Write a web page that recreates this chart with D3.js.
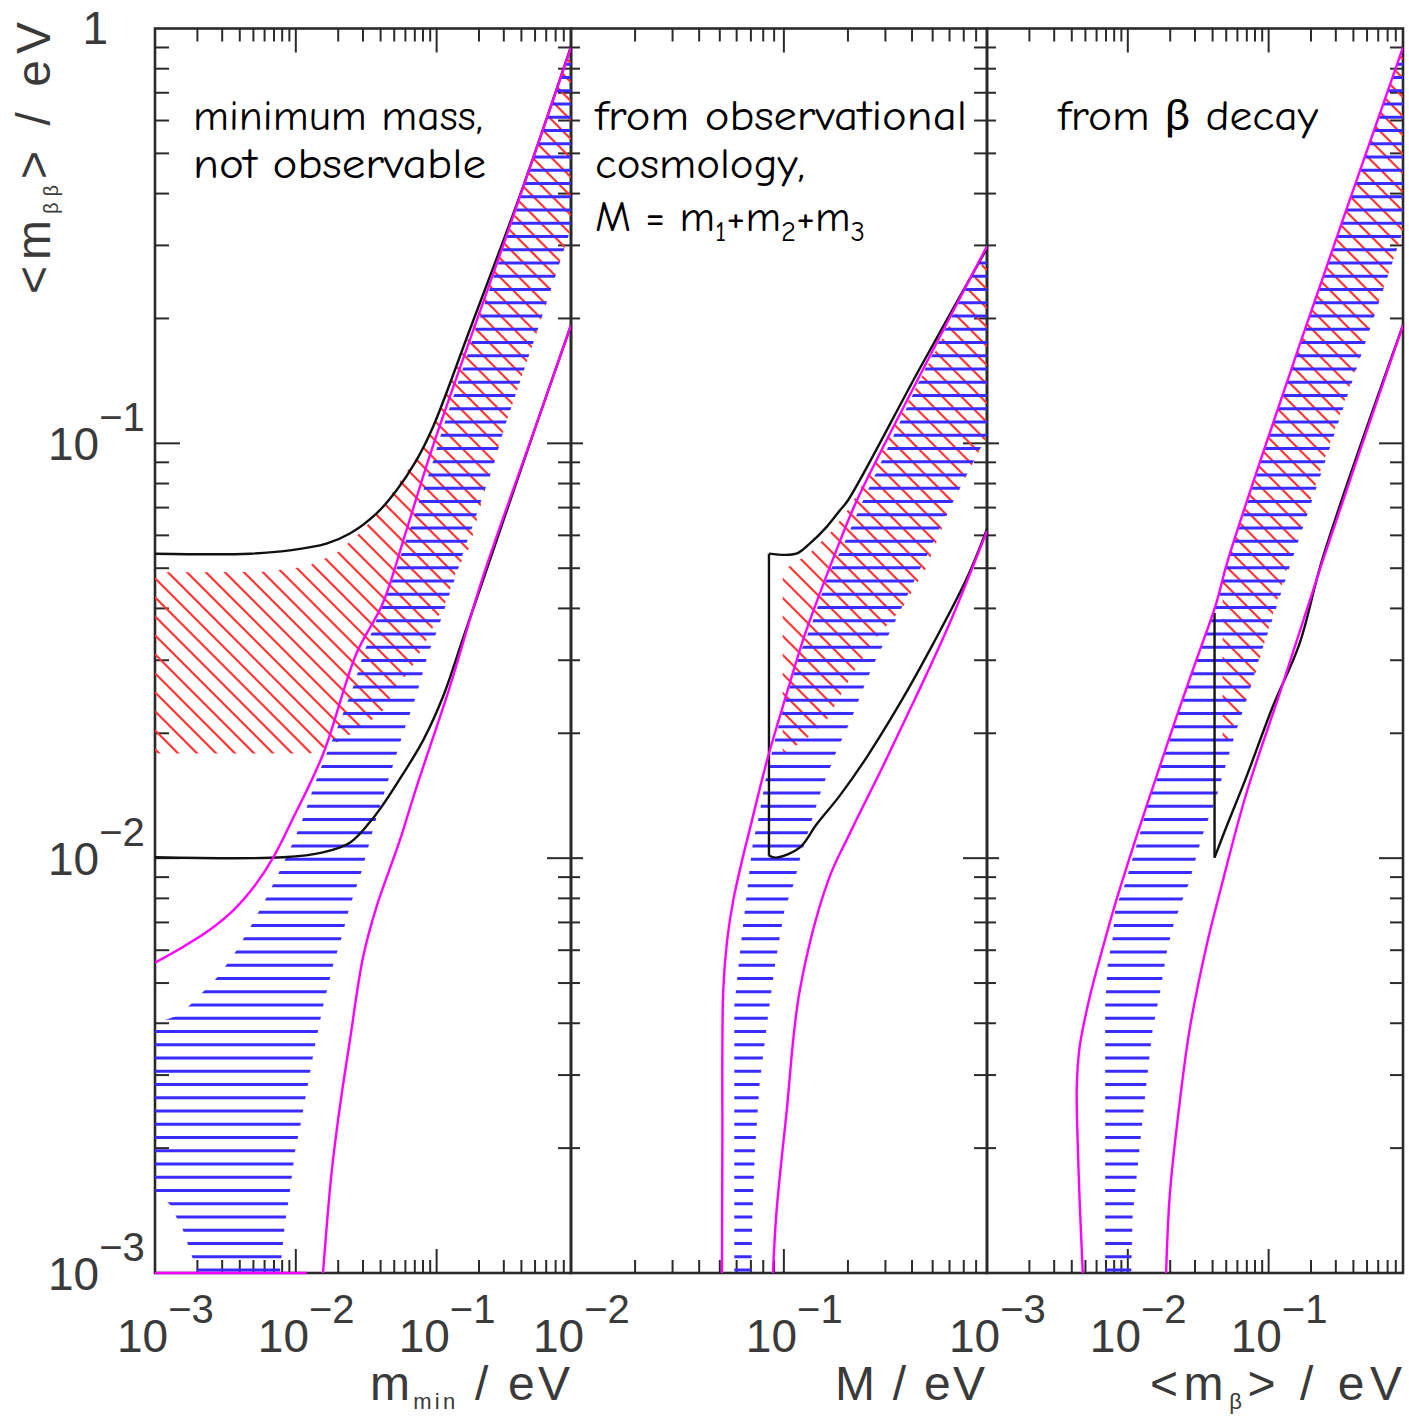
<!DOCTYPE html>
<html>
<head>
<meta charset="utf-8">
<script src="https://cdn.jsdelivr.net/npm/d3@7"></script>
<style>
  html, body { margin: 0; padding: 0; background: #ffffff; }
  svg { display: block; }
</style>
</head>
<body>
<svg id="chart" width="1409" height="1417"></svg>
<script>
// ---------------------------------------------------------------
// Effective Majorana mass <m_bb> versus three neutrino mass scales.
// Normal ordering: magenta envelope, blue hatched best-fit band.
// Inverted ordering: black envelope, red hatched best-fit band.
// Points are [x, <m_bb>] in eV.
// ---------------------------------------------------------------

// Axis domains (x) for the three panels
const p1XDomain = [1e-3, 0.9];   // m_min
const p2XDomain = [1e-2, 0.9];   // M = m1+m2+m3
const p3XDomain = [1e-3, 0.9];   // <m_beta>
const yDomain = [1e-3, 1];

// Tick label positions
const yTickValues = [1, 1e-1, 1e-2, 1e-3];
const p1TickLabels = [1e-3, 1e-2, 1e-1];
const p2TickLabels = [1e-2, 1e-1];
const p3TickLabels = [1e-3, 1e-2, 1e-1];

// ---------- Panel 1: minimum mass ----------
const p1NhMax = [[1e-3,5.6e-3],[1.58e-3,6.11e-3],[2.45e-3,6.72e-3],[3.69e-3,7.55e-3],[5.12e-3,8.59e-3],
  [6.87e-3,1.0e-2],[9.52e-3,1.245e-2],[1.56e-2,1.78e-2],[2.69e-2,3.11e-2],[4.14e-2,4.11e-2],[6.1e-2,6.17e-2],
  [9.37e-2,9.8e-2],[0.312,0.315],[0.9,0.9]];
const p1NhMin = [[1.56e-2,1e-3],[1.79e-2,1.73e-3],[2.05e-2,2.5e-3],[2.42e-2,3.63e-3],[3.0e-2,5.76e-3],
  [3.73e-2,7.61e-3],[5.46e-2,1.10e-2],[7.18e-2,1.48e-2],[0.1237,2.58e-2],[0.213,4.76e-2],[0.523,0.1136],[0.9,0.1926]];
const p1NhMinFloor = [[1e-3,1e-3],[1.19e-2,1e-3]];
const p1IhMax = [[1e-3,0.0542],[4.72e-3,0.0542],[9.07e-3,0.0552],[1.65e-2,0.0573],[2.42e-2,0.0606],
  [3.73e-2,0.0677],[5.18e-2,0.077],[7.18e-2,0.091],[9.42e-2,0.1095],[0.1714,0.1873],[0.4,0.405],[0.9,0.905]];
const p1IhMin = [[1e-3,0.01005],[8.13e-3,0.01005],[1.56e-2,0.01033],[2.42e-2,0.0109],[3.35e-2,0.0122],
  [4.16e-2,0.01345],[5.77e-2,0.01596],[8.0e-2,0.0192],[0.1109,0.0245],[0.1537,0.0338],[0.213,0.0467],
  [0.523,0.1136],[0.9,0.1926]];
const p1NhFitUpper = [[1e-3,4.0e-3],[1.39e-3,4.15e-3],[1.79e-3,4.44e-3],[2.3e-3,4.84e-3],[2.83e-3,5.2e-3],
  [3.8e-3,6.0e-3],[4.86e-3,6.91e-3],[6.26e-3,8.09e-3],[7.7e-3,9.33e-3],[9.57e-3,1.092e-2],[1.13e-2,1.254e-2],
  [1.33e-2,1.474e-2],[1.56e-2,1.7e-2],[1.89e-2,1.99e-2],[2.23e-2,2.29e-2],[2.62e-2,2.65e-2],[3.0e-2,3.09e-2],
  [3.53e-2,3.57e-2],[4.16e-2,4.12e-2],[5.04e-2,4.83e-2],[5.77e-2,5.57e-2],[6.79e-2,6.52e-2],[7.79e-2,7.49e-2],
  [9.17e-2,8.77e-2],[0.1109,0.1091],[0.312,0.31],[0.9,0.897]];
const p1NhFitLower = [[1e-3,1.58e-3],[1.28e-3,1.46e-3],[1.58e-3,1.27e-3],[1.86e-3,1.08e-3],[2.02e-3,1e-3],
  [2.3e-3,6e-4],[7.4e-3,6e-4],[7.7e-3,1e-3],[8.0e-3,1.13e-3],[8.36e-3,1.31e-3],[9.07e-3,1.57e-3],
  [9.89e-3,1.97e-3],[1.08e-2,2.28e-3],[1.22e-2,2.86e-3],[1.38e-2,3.59e-3],[1.57e-2,4.43e-3],[1.85e-2,5.56e-3],
  [2.11e-2,6.43e-3],[2.39e-2,7.55e-3],[2.94e-2,9.33e-3],[3.73e-2,1.25e-2],[4.64e-2,1.58e-2],[5.77e-2,2.0e-2],
  [7.18e-2,2.47e-2],[8.67e-2,3.1e-2],[0.1021,3.58e-2],[0.1172,4.11e-2],[0.138,4.83e-2],[0.158,5.58e-2],
  [0.186,6.52e-2],[0.213,7.49e-2],[0.251,8.75e-2],[0.3035,0.1093],[0.52,0.187],[0.9,0.33]];
const p1IhFitUpper = [[1e-3,0.0489],[6e-3,0.049],[1.2e-2,0.0505],[1.95e-2,0.0543],[2.99e-2,0.0617],
  [4.14e-2,0.0701],[5.74e-2,0.0828],[7.57e-2,0.0946],[9.37e-2,0.1075],[0.312,0.309],[0.9,0.89]];
const p1IhFitLower = [[1e-3,0.01787],[1.26e-2,0.01787],[1.94e-2,0.019],[3.0e-2,0.0207],[4.16e-2,0.0227],
  [5.18e-2,0.0258],[6.44e-2,0.0283],[8.0e-2,0.0323],[0.0995,0.0374],[0.1172,0.0418],[0.138,0.0494],
  [0.1714,0.0562],[0.213,0.0741],[0.3035,0.1093],[0.52,0.187],[0.9,0.33]];

// ---------- Panel 2: cosmological sum M ----------
const p2NhMax = [[0.0512,1e-3],[0.0514,1.97e-3],[0.0519,4.79e-3],[0.0541,6.32e-3],[0.0578,7.9e-3],
  [0.0636,9.86e-3],[0.0693,1.178e-2],[0.0756,1.415e-2],[0.0833,1.718e-2],[0.0938,2.123e-2],[0.1068,2.65e-2],
  [0.1229,3.35e-2],[0.1446,4.23e-2],[0.172,5.34e-2],[0.2204,7.29e-2],[0.4358,0.1459],[0.9,0.2987]];
const p2NhMin = [[0.0889,1e-3],[0.0922,1.39e-3],[0.1027,2.41e-3],[0.1187,4.79e-3],[0.1613,8.82e-3],
  [0.2039,1.146e-2],[0.2927,1.67e-2],[0.4203,2.466e-2],[0.6029,3.7e-2],[0.9,0.0615]];
const p2IhMax = [[0.0851,0.0542],[0.1145,0.0542],[0.1322,0.0573],[0.1585,0.0628],[0.1831,0.0689],
  [0.2002,0.0729],[0.4355,0.1517],[0.9,0.2954]];
const p2IhMin = [[0.0851,0.01014],[0.0922,0.01003],[0.1187,0.0106],[0.1422,0.01205],[0.1831,0.01415],
  [0.2444,0.01748],[0.3507,0.0236],[0.503,0.0329],[0.7225,0.0472],[0.9,0.0622]];
const p2IhEdge = [[0.0851,0.0542],[0.0851,0.01014]];
const p2NhFitUpper = [[0.0585,6e-4],[0.0585,4.4e-3],[0.0624,6.02e-3],[0.0678,8.68e-3],[0.0716,1.094e-2],
  [0.0764,1.264e-2],[0.0827,1.584e-2],[0.0922,1.99e-2],[0.1034,2.466e-2],[0.1187,3.1e-2],[0.1396,3.83e-2],
  [0.1613,4.83e-2],[0.1865,5.55e-2],[0.2274,7.0e-2],[0.445,0.1459],[0.9,0.297]];
const p2NhFitLower = [[0.069,6e-4],[0.0711,1.37e-3],[0.0731,1.97e-3],[0.0769,2.86e-3],[0.0842,4.15e-3],
  [0.0912,5.6e-3],[0.1009,7.55e-3],[0.1116,8.71e-3],[0.1204,1.02e-2],[0.1312,1.176e-2],[0.1511,1.477e-2],
  [0.1778,1.827e-2],[0.2055,2.14e-2],[0.2418,2.646e-2],[0.2773,3.1e-2],[0.3206,3.57e-2],[0.3662,4.13e-2],
  [0.4231,4.83e-2],[0.4855,5.55e-2],[0.5572,6.49e-2],[0.6029,7.0e-2],[0.9,0.1045]];
const p2IhFitUpper = [[0.0987,0.0494],[0.1322,0.0543],[0.1697,0.0617],[0.2039,0.0701],[0.4355,0.1419],[0.9,0.2842]];
const p2IhFitLower = [[0.0987,0.01817],[0.1009,0.01787],[0.1276,0.01942],[0.1585,0.02147],[0.2107,0.02787],
  [0.2725,0.0341],[0.3624,0.0403],[0.4684,0.0503],[0.6029,0.07],[0.9,0.1045]];

// ---------- Panel 3: beta-decay mass <m_beta> ----------
const p3NhMax = [[4.79e-3,1e-3],[4.54e-3,1.52e-3],[4.42e-3,2.0e-3],[4.34e-3,2.8e-3],[4.54e-3,3.49e-3],
  [5.35e-3,4.61e-3],[6.65e-3,6.09e-3],[8.27e-3,7.9e-3],[1.21e-2,1.187e-2],[1.59e-2,1.566e-2],[2.21e-2,2.186e-2],
  [3.06e-2,2.996e-2],[4.24e-2,4.11e-2],[5.13e-2,5.22e-2],[0.1658,0.1724],[0.9,0.9]];
const p3NhMin = [[1.87e-2,1e-3],[1.98e-2,1.52e-3],[2.21e-2,2.2e-3],[2.74e-2,3.84e-3],[3.6e-2,6.09e-3],
  [4.73e-2,8.82e-3],[6.93e-2,1.428e-2],[0.1195,2.49e-2],[0.2426,5.22e-2],[0.9,0.1926]];
const p3IhMin = [[4.13e-2,1.003e-2],[5.0e-2,1.187e-2],[6.93e-2,1.566e-2],[0.1071,2.32e-2],[0.1658,3.29e-2],
  [0.2426,5.3e-2],[0.9,0.1926]];
const p3IhEdge = [[4.13e-2,0.039],[4.13e-2,1.003e-2]];
const p3NhFitUpper = [[6.91e-3,6e-4],[6.91e-3,4.44e-3],[7.21e-3,5.57e-3],[7.82e-3,6.44e-3],[8.14e-3,7.54e-3],
  [9.58e-3,8.68e-3],[1.1e-2,1.018e-2],[1.245e-2,1.176e-2],[1.387e-2,1.356e-2],[1.65e-2,1.588e-2],
  [2.03e-2,1.994e-2],[2.53e-2,2.466e-2],[3.14e-2,3.1e-2],[4.02e-2,3.83e-2],[5.13e-2,5.17e-2],[0.1658,0.1724],[0.9,0.897]];
const p3NhFitLower = [[1.02e-2,6e-4],[1.08e-2,1.36e-3],[1.17e-2,1.78e-3],[1.27e-2,2.33e-3],[1.387e-2,3.07e-3],
  [1.5e-2,3.86e-3],[1.71e-2,4.84e-3],[1.9e-2,6.0e-3],[2.11e-2,6.91e-3],[2.49e-2,8.07e-3],[2.71e-2,8.69e-3],
  [3.09e-2,1.018e-2],[3.5e-2,1.176e-2],[4.13e-2,1.356e-2],[4.73e-2,1.588e-2],[5.79e-2,1.994e-2],
  [7.12e-2,2.466e-2],[8.76e-2,3.1e-2],[0.1083,3.83e-2],[0.1447,5.17e-2],[0.9,0.3248]];
const p3IhFitUpper = [[4.71e-2,4.67e-2],[5.13e-2,5.17e-2],[0.1658,0.1724],[0.9,0.897]];
const p3IhFitLower = [[4.71e-2,1.889e-2],[5.0e-2,1.868e-2],[5.57e-2,2.07e-2],[6.56e-2,2.27e-2],
  [8.17e-2,2.83e-2],[0.1071,3.88e-2],[0.1408,5.22e-2],[0.9,0.3248]];

// ---------------------------------------------------------------
const svg = d3.select("#chart");
const defs = svg.append("defs");

const plotTop = 28.5, plotBottom = 1273;
const edges = [155, 571, 987, 1403];

const COL_MAGENTA = "#ff00ff";
const COL_BLACK = "#111111";
const COL_BLUE = "#3a2cff";
const COL_RED = "#ff3434";
const COL_FRAME = "#2a2a2a";
const COL_LABEL = "#3a3a3a";
const tickFont = "'Liberation Sans', Arial, Helvetica, sans-serif";
const noteFont = "'Comic Sans MS', 'Comic Neue', Lato, 'Open Sans', sans-serif";

const y = d3.scaleLog().domain(yDomain).range([plotBottom, plotTop]);

const panels = [
  { xs: d3.scaleLog().domain(p1XDomain).range([edges[0], edges[1]]),
    nhFit: [p1NhFitUpper, p1NhFitLower], ihFit: [p1IhFitUpper, p1IhFitLower],
    black: [p1IhMax, p1IhMin], blackEdge: null,
    magenta: [p1NhMax, p1NhMin, p1NhMinFloor],
    labels: p1TickLabels, leftTick: [25, 14] },
  { xs: d3.scaleLog().domain(p2XDomain).range([edges[1], edges[2]]),
    nhFit: [p2NhFitUpper, p2NhFitLower], ihFit: [p2IhFitUpper, p2IhFitLower],
    black: [p2IhMax, p2IhMin], blackEdge: p2IhEdge,
    magenta: [p2NhMax, p2NhMin],
    labels: p2TickLabels, leftTick: [12, 9] },
  { xs: d3.scaleLog().domain(p3XDomain).range([edges[2], edges[3]]),
    nhFit: [p3NhFitUpper, p3NhFitLower], ihFit: [p3IhFitUpper, p3IhFitLower],
    black: [p3IhMin], blackEdge: p3IhEdge,
    magenta: [p3NhMax, p3NhMin],
    labels: p3TickLabels, leftTick: [12, 9] }
];

const isDecade = v => Math.abs(Math.log10(v) - Math.round(Math.log10(v))) < 1e-6;

// ---------- frames and ticks ----------
const frame = svg.append("g");
panels.forEach((p, i) => {
  const [x0, x1] = p.xs.range();
  frame.append("rect")
    .attr("x", x0).attr("y", plotTop).attr("width", x1 - x0).attr("height", plotBottom - plotTop)
    .attr("fill", "none").attr("stroke", COL_FRAME).attr("stroke-width", 2.6);

  // y ticks, both sides, pointing inward
  y.ticks().forEach(v => {
    const yy = y(v);
    if (yy < plotTop + 1 || yy > plotBottom - 1) return;
    const maj = isDecade(v);
    const lenL = maj ? p.leftTick[0] : p.leftTick[1];
    const lenR = maj ? 24 : 13;
    frame.append("line").attr("x1", x0).attr("x2", x0 + lenL).attr("y1", yy).attr("y2", yy)
      .attr("stroke", COL_FRAME).attr("stroke-width", 2);
    frame.append("line").attr("x1", x1).attr("x2", x1 - lenR).attr("y1", yy).attr("y2", yy)
      .attr("stroke", COL_FRAME).attr("stroke-width", 2);
  });

  // x ticks, top and bottom
  p.xs.ticks().forEach(v => {
    const xx = p.xs(v);
    if (xx < x0 + 1 || xx > x1 - 1) return;
    const len = isDecade(v) ? 24 : 13;
    frame.append("line").attr("x1", xx).attr("x2", xx).attr("y1", plotBottom).attr("y2", plotBottom - len)
      .attr("stroke", COL_FRAME).attr("stroke-width", 2);
    frame.append("line").attr("x1", xx).attr("x2", xx).attr("y1", plotTop).attr("y2", plotTop + len)
      .attr("stroke", COL_FRAME).attr("stroke-width", 2);
  });

  defs.append("clipPath").attr("id", "panelClip" + i)
    .append("rect").attr("x", x0).attr("y", plotTop - 2)
    .attr("width", x1 - x0).attr("height", plotBottom - plotTop + 4);
});

// ---------- hatched bands ----------
function bandPath(xs, upper, lower) {
  const poly = upper.concat(lower.slice().reverse());
  return d3.line().x(d => xs(d[0])).y(d => y(d[1]))(poly) + "Z";
}

function hatch(layer, id, xs, upper, lower, kind) {
  defs.append("clipPath").attr("id", id).append("path").attr("d", bandPath(xs, upper, lower));
  const g = layer.append("g").attr("clip-path", `url(#${id})`);
  const [x0, x1] = xs.range();
  if (kind === "horizontal") {
    for (let yy = 1270; yy > plotTop; yy -= 13.25) {
      g.append("line").attr("x1", x0).attr("x2", x1).attr("y1", yy).attr("y2", yy)
        .attr("stroke", COL_BLUE).attr("stroke-width", 3);
    }
  } else {
    const step = 19, phase = 5.3;
    const cMin = plotTop - x1, cMax = plotBottom - x0;
    for (let c = Math.ceil((cMin - phase) / step) * step + phase; c <= cMax; c += step) {
      g.append("line").attr("x1", x0).attr("y1", x0 + c).attr("x2", x1).attr("y2", x1 + c)
        .attr("stroke", COL_RED).attr("stroke-width", 2.2);
    }
  }
}

const smooth = xs => d3.line().x(d => xs(d[0])).y(d => y(d[1])).curve(d3.curveCatmullRom.alpha(0.5));
const straight = xs => d3.line().x(d => xs(d[0])).y(d => y(d[1]));

panels.forEach((p, i) => {
  const layer = svg.append("g").attr("clip-path", `url(#panelClip${i})`);
  hatch(layer, "ihBand" + i, p.xs, p.ihFit[0], p.ihFit[1], "diagonal");
  hatch(layer, "nhBand" + i, p.xs, p.nhFit[0], p.nhFit[1], "horizontal");

  p.black.forEach(c => layer.append("path").attr("d", smooth(p.xs)(c))
    .attr("fill", "none").attr("stroke", COL_BLACK).attr("stroke-width", 2.4));
  if (p.blackEdge) layer.append("path").attr("d", straight(p.xs)(p.blackEdge))
    .attr("fill", "none").attr("stroke", COL_BLACK).attr("stroke-width", 2.4);

  p.magenta.forEach(c => layer.append("path").attr("d", smooth(p.xs)(c))
    .attr("fill", "none").attr("stroke", COL_MAGENTA).attr("stroke-width", 2.4));
});

// ---------- tick labels ----------
function powerLabel(x, yb, v) {
  const t = svg.append("text").attr("x", x).attr("y", yb)
    .attr("font-family", tickFont).attr("font-size", 46).attr("fill", COL_LABEL);
  t.append("tspan").text("10");
  t.append("tspan").attr("font-size", 40).attr("dy", -29).text("\u2212" + Math.abs(Math.round(Math.log10(v))));
}

panels.forEach(p => p.labels.forEach(v => powerLabel(p.xs(v) - 38, 1352, v)));

yTickValues.forEach(v => {
  if (v === 1) {
    svg.append("text").attr("x", 108).attr("y", y(v) + 15).attr("text-anchor", "end")
      .attr("font-family", tickFont).attr("font-size", 46).attr("fill", COL_LABEL).text("1");
  } else {
    powerLabel(48, y(v) + 17, v);
  }
});

// ---------- axis titles ----------
const yTitle = svg.append("text")
  .attr("transform", "translate(50,294) rotate(-90)")
  .attr("font-family", tickFont).attr("font-size", 48).attr("fill", COL_LABEL)
  .attr("textLength", 272).attr("lengthAdjust", "spacing");
yTitle.append("tspan").text("<m");
yTitle.append("tspan").attr("font-size", 20).attr("dy", 8).text("\u03b2\u03b2");
yTitle.append("tspan").attr("dy", -8).text("> / eV");

function xTitle(x, len, base, sub, rest, lead) {
  const t = svg.append("text").attr("x", x).attr("y", 1400)
    .attr("font-family", tickFont).attr("font-size", 48).attr("fill", COL_LABEL)
    .attr("textLength", len).attr("lengthAdjust", "spacing");
  t.append("tspan").text((lead || "") + base);
  if (sub) {
    t.append("tspan").attr("font-size", 22).attr("dy", 9).text(sub);
    t.append("tspan").attr("dy", -9).text(rest);
  } else {
    t.append("tspan").text(rest);
  }
}
xTitle(370, 200, "m", "min", " / eV");
xTitle(835, 150, "M", null, " / eV");
xTitle(1150, 252, "m", "\u03b2", "> / eV", "<");

// ---------- panel annotations ----------
function note(x, yb, str, len) {
  return svg.append("text").attr("x", x).attr("y", yb)
    .attr("font-family", noteFont).attr("font-size", 42).attr("fill", "#000")
    .attr("textLength", len).attr("lengthAdjust", "spacingAndGlyphs").text(str);
}
note(193, 130, "minimum mass,", 290);
note(193, 178, "not observable", 293);
note(595, 130, "from observational", 372);
note(595, 178, "cosmology,", 210);
note(1058, 130, "from \u03b2 decay", 260);

const sumNote = svg.append("text").attr("x", 595).attr("y", 231)
  .attr("font-family", noteFont).attr("font-size", 42).attr("fill", "#000")
  .attr("textLength", 270).attr("lengthAdjust", "spacingAndGlyphs");
sumNote.append("tspan").text("M = m");
sumNote.append("tspan").attr("font-size", 28).attr("dy", 10).text("1");
sumNote.append("tspan").attr("dy", -10).text("+m");
sumNote.append("tspan").attr("font-size", 28).attr("dy", 10).text("2");
sumNote.append("tspan").attr("dy", -10).text("+m");
sumNote.append("tspan").attr("font-size", 28).attr("dy", 10).text("3");
</script>
</body>
</html>
